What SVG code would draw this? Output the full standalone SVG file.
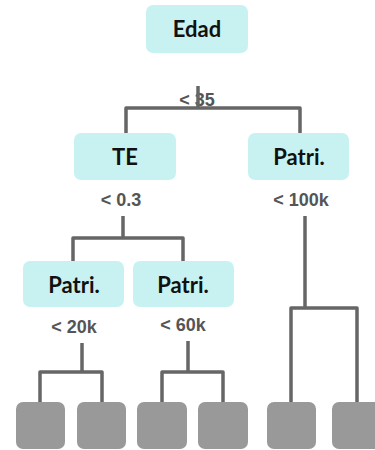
<svg xmlns="http://www.w3.org/2000/svg" width="375" height="450" viewBox="0 0 375 450">
  <style>
    .node rect { fill: #c8f2f2; }
    .node text { font-family: Lato, "Noto Sans", sans-serif; font-weight: 700; font-size: 22px; fill: #111; text-anchor: middle; }
    .leaf rect { fill: #999999; }
    .lbl { font-family: "Liberation Sans", Arial, sans-serif; font-weight: 700; font-size: 18px; fill: #555; text-anchor: middle; }
    .edges path { fill: none; stroke: #666; stroke-width: 3.5; stroke-linejoin: round; }
  </style>
  <rect width="375" height="450" fill="#ffffff"/>

  <!-- decision nodes -->
  <g id="edad" class="node">
    <rect x="146" y="5" width="102" height="48" rx="7"/>
    <text x="197" y="37">Edad</text>
  </g>
  <g id="te" class="node">
    <rect x="74" y="133" width="102" height="47" rx="7"/>
    <text x="125" y="165">TE</text>
  </g>
  <g id="patri-r" class="node">
    <rect x="248" y="133" width="101" height="47" rx="7"/>
    <text x="299" y="165">Patri.</text>
  </g>
  <g id="patri-l1" class="node">
    <rect x="23" y="261" width="101" height="46" rx="7"/>
    <text x="74" y="293">Patri.</text>
  </g>
  <g id="patri-l2" class="node">
    <rect x="133" y="261" width="101" height="46" rx="7"/>
    <text x="183" y="293">Patri.</text>
  </g>

  <!-- split thresholds -->
  <g id="labels">
    <text class="lbl" x="197" y="106">&lt; 35</text>
    <text class="lbl" x="121" y="206">&lt; 0.3</text>
    <text class="lbl" x="301" y="206">&lt; 100k</text>
    <text class="lbl" x="74" y="333">&lt; 20k</text>
    <text class="lbl" x="183" y="331">&lt; 60k</text>
  </g>

  <!-- leaves -->
  <g id="leaf1" class="leaf"><rect x="16" y="402" width="49" height="47" rx="7"/></g>
  <g id="leaf2" class="leaf"><rect x="77" y="402" width="49" height="47" rx="7"/></g>
  <g id="leaf3" class="leaf"><rect x="137" y="402" width="50" height="47" rx="7"/></g>
  <g id="leaf4" class="leaf"><rect x="198" y="402" width="50" height="47" rx="7"/></g>
  <g id="leaf5" class="leaf"><rect x="267" y="402" width="49" height="47" rx="7"/></g>
  <g id="leaf6" class="leaf"><rect x="332" y="402" width="49" height="47" rx="7"/></g>

  <!-- connectors -->
  <g class="edges">
    <path d="M198 86 V108"/>
    <path d="M126 133 V108 H300 V133"/>
    <path d="M123 216 V238"/>
    <path d="M73 261 V238 H183 V261"/>
    <path d="M82 343 V372"/>
    <path d="M40 402 V372 H102 V402"/>
    <path d="M188 341 V372"/>
    <path d="M162 402 V372 H223 V402"/>
    <path d="M305 216 V308"/>
    <path d="M291 402 V308 H357 V402"/>
  </g>
</svg>
